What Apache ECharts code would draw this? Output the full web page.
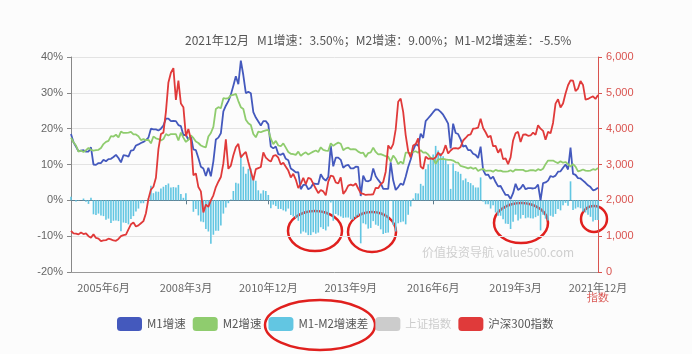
<!DOCTYPE html>
<html>
<head>
<meta charset="utf-8">
<script src="https://cdn.jsdelivr.net/npm/echarts@6/dist/echarts.min.js"></script>
<style>
  html, body { margin: 0; padding: 0; background: #fff; }
  #main { width: 692px; height: 354px; }
</style>
</head>
<body>
<div id="main"></div>
<script>
// months: 2004-05 .. 2021-12
const startYear = 2004, startMonth = 5, endYear = 2021, endMonth = 12;
const months = [];
for (let y = startYear; y <= endYear; y++) {
  for (let m = (y === startYear ? startMonth : 1); m <= (y === endYear ? endMonth : 12); m++) {
    months.push(y + '年' + m + '月');
  }
}

// M1 增速 (%)
const m1 = [
  18.5, 16.2, 15.0, 13.7, 13.9, 14.0, 13.6, 13.6,
  14.8, 10.0, 9.9, 10.4, 10.4, 11.3, 10.9, 11.5, 11.6, 12.1, 12.7, 11.8,
  10.6, 12.6, 12.5, 12.2, 13.9, 14.0, 15.3, 15.6, 16.0, 16.3, 16.8, 17.5,
  20.0, 19.8, 19.8, 19.5, 20.0, 20.9, 22.8, 22.8, 22.1, 22.2, 22.1, 21.0,
  20.7, 18.2, 18.3, 16.9, 18.0, 14.2, 14.0, 11.8, 9.4, 8.9, 6.8, 9.1,
  6.7, 10.9, 17.0, 17.5, 18.7, 24.8, 26.4, 27.7, 29.5, 32.0, 34.6, 32.4,
  39.0, 34.9, 29.9, 30.3, 29.9, 24.6, 23.1, 22.0, 20.9, 22.1, 22.1, 21.2,
  15.0, 14.5, 15.0, 12.9, 12.7, 13.1, 11.6, 11.2, 8.9, 8.4, 7.8, 7.9,
  3.1, 4.3, 4.4, 3.1, 3.5, 4.7, 4.6, 4.5, 7.3, 6.1, 5.5, 6.5,
  15.3, 9.5, 11.9, 11.9, 11.3, 9.1, 9.7, 9.9, 8.9, 8.9, 9.4, 9.3,
  1.2, 6.9, 5.4, 5.3, 5.7, 8.9, 6.7, 5.7, 4.8, 3.2, 3.2, 3.2,
  10.6, 5.6, 2.9, 3.7, 4.7, 4.3, 6.6, 9.3, 11.4, 14.0, 15.7, 15.2,
  18.6, 17.4, 22.1, 22.9, 23.7, 24.6, 25.4, 25.3, 24.7, 23.9, 22.7, 21.4,
  14.5, 21.4, 18.8, 18.5, 17.0, 15.0, 15.3, 14.0, 14.0, 13.0, 12.7, 11.8,
  15.0, 8.5, 7.1, 7.2, 6.0, 6.6, 5.1, 3.9, 4.0, 2.7, 1.5, 1.5,
  0.4, 2.0, 4.6, 2.9, 3.4, 4.4, 3.1, 3.4, 3.4, 3.3, 3.5, 4.4,
  0.0, 4.8, 5.0, 5.5, 6.8, 6.5, 6.9, 8.0, 8.1, 9.1, 10.0, 8.6,
  14.7, 7.4, 7.1, 6.2, 6.1, 5.5, 4.9, 4.2, 3.7, 2.8, 3.0, 3.5
];

// M2 增速 (%)
const m2 = [
  17.5, 16.2, 15.3, 13.6, 13.9, 13.5, 14.0, 14.6,
  14.1, 13.9, 14.0, 14.1, 14.6, 15.7, 16.3, 16.6, 17.9, 17.8, 18.3, 17.6,
  19.2, 18.8, 18.8, 18.9, 19.1, 18.4, 18.4, 17.9, 16.8, 17.1, 16.8, 16.9,
  15.9, 17.8, 17.3, 17.1, 16.7, 17.1, 18.5, 18.1, 18.5, 18.5, 18.5, 16.7,
  18.9, 17.5, 16.3, 16.9, 18.1, 17.4, 16.4, 16.0, 15.3, 15.0, 14.8, 17.8,
  18.8, 20.5, 25.5, 26.0, 25.7, 28.5, 28.4, 28.5, 29.3, 29.4, 29.7, 27.7,
  26.0, 25.5, 22.5, 21.5, 21.0, 18.5, 17.6, 19.2, 19.0, 19.3, 19.5, 19.7,
  17.2, 15.7, 16.6, 15.3, 15.1, 15.9, 14.7, 13.5, 13.0, 12.9, 12.7, 13.6,
  12.4, 13.0, 13.4, 12.8, 13.2, 13.6, 13.9, 13.5, 14.8, 14.1, 13.9, 13.8,
  15.9, 15.2, 15.7, 16.1, 15.8, 14.0, 14.5, 14.7, 14.2, 14.3, 14.2, 13.6,
  13.2, 13.3, 12.1, 13.2, 13.4, 14.7, 13.5, 12.8, 12.9, 12.6, 12.3, 12.2,
  10.8, 12.5, 11.6, 10.1, 10.8, 10.2, 13.3, 13.3, 13.1, 13.5, 13.7, 13.3,
  14.0, 13.3, 13.4, 12.8, 11.8, 11.8, 10.2, 11.4, 11.5, 11.6, 11.4, 11.3,
  11.3, 11.1, 10.6, 10.5, 9.6, 9.4, 9.2, 8.9, 9.2, 8.8, 9.1, 8.2,
  8.6, 8.8, 8.2, 8.3, 8.3, 8.0, 8.5, 8.2, 8.3, 8.0, 8.0, 8.1,
  8.4, 8.0, 8.6, 8.5, 8.5, 8.5, 8.1, 8.2, 8.4, 8.4, 8.2, 8.7,
  8.4, 8.8, 10.1, 11.1, 11.1, 11.1, 10.7, 10.4, 10.9, 10.5, 10.7, 10.1,
  9.4, 10.1, 9.4, 8.1, 8.3, 8.6, 8.3, 8.2, 8.3, 8.7, 8.5, 9.0
];

// 沪深300指数 (月末)
const hs300 = [
  1150, 1080, 1070, 1050, 1100, 1060, 1080, 1000,
  960, 1050, 950, 930, 860, 880, 890, 930, 910, 880, 870, 923,
  1000, 1030, 1040, 1190, 1330, 1380, 1270, 1300, 1360, 1420, 1640, 2041,
  2300, 2380, 2630, 3430, 3850, 3890, 4470, 5290, 5560, 5688, 4800, 5338,
  4700, 4600, 3790, 3990, 3700, 2700, 2750, 2370, 2250, 1660, 1880, 1817,
  2000, 2140, 2370, 2520, 2650, 3030, 3700, 2880, 2970, 3260, 3480, 3575,
  3200, 3280, 3350, 3070, 2810, 2560, 2870, 2900, 2930, 3340, 3190, 3128,
  3080, 3240, 3260, 3190, 3000, 3050, 2940, 2830, 2640, 2740, 2580, 2346,
  2460, 2630, 2450, 2630, 2600, 2460, 2330, 2200, 2290, 2250, 2140, 2522,
  2690, 2670, 2500, 2470, 2640, 2180, 2270, 2410, 2440, 2410, 2470, 2330,
  2200, 2180, 2150, 2160, 2160, 2170, 2350, 2340, 2450, 2510, 2800, 3533,
  3430, 3570, 3980, 4750, 4840, 4470, 3820, 3370, 3200, 3530, 3570, 3731,
  2940, 2880, 3220, 3160, 3170, 3150, 3200, 3330, 3250, 3340, 3540, 3310,
  3390, 3450, 3460, 3440, 3490, 3670, 3740, 3820, 3840, 4000, 4010, 4030,
  4280, 4020, 3900, 3760, 3800, 3510, 3520, 3330, 3440, 3150, 3170, 3010,
  3200, 3670, 3870, 3910, 3630, 3830, 3840, 3800, 3810, 3890, 3830, 4097,
  4000, 3940, 3690, 3910, 3870, 4160, 4700, 4820, 4590, 4700, 4980, 5211,
  5350, 5340, 5050, 5120, 5330, 5220, 4810, 4830, 4870, 4900, 4830, 4940
];

// M1-M2 增速差
const diff = m1.map((v, i) => Math.round((v - m2[i]) * 10) / 10);

const titleText = '2021年12月   M1增速：3.50%；M2增速：9.00%；M1-M2增速差：-5.5%';
const labelEvery = 33, labelFirst = 13;
const showLabel = (idx) => (idx - labelFirst) % labelEvery === 0;

const chart = echarts.init(document.getElementById('main'));

const option = {
  backgroundColor: '#fcfcfc',
  animation: false,
  title: {
    text: titleText,
    left: 180,
    top: 29,
    textStyle: { fontSize: 12, fontWeight: 'normal', color: '#555', fontFamily: 'Noto Sans CJK SC' }
  },
  legend: {
    left: 112,
    top: 312,
    icon: 'roundRect',
    itemWidth: 25,
    itemHeight: 14,
    itemGap: 7,
    textStyle: { fontSize: 11.5, color: '#555', fontFamily: 'Noto Sans CJK SC' },
    inactiveColor: '#ccc',
    data: ['M1增速', 'M2增速', 'M1-M2增速差', '上证指数', '沪深300指数'],
    selected: { '上证指数': false }
  },
  grid: { left: 71, right: 94, top: 57, bottom: 82 },
  xAxis: [{
    type: 'category',
    data: months,
    boundaryGap: false,
    axisLine: { onZero: false, lineStyle: { color: '#999' } },
    axisTick: { show: false },
    axisLabel: { interval: showLabel, color: '#666', fontSize: 11, margin: 10, fontFamily: 'Noto Sans CJK SC' },
    splitLine: { show: false }
  }, {
    type: 'category',
    data: months,
    boundaryGap: false,
    position: 'bottom',
    axisLine: { onZero: true, lineStyle: { color: '#5f7d8e' } },
    axisTick: { interval: showLabel, length: 4, lineStyle: { color: '#5f7d8e' } },
    axisLabel: { show: false },
    splitLine: { show: false }
  }],
  yAxis: [{
    type: 'value',
    min: -20,
    max: 40,
    interval: 10,
    axisLine: { show: true, lineStyle: { color: '#888' } },
    axisTick: { show: true, length: 4 },
    axisLabel: { formatter: '{value}%', color: '#666', fontSize: 11 },
    splitLine: { lineStyle: { color: '#e3e3e3' } }
  }, {
    type: 'value',
    min: 0,
    max: 6000,
    interval: 1000,
    name: '指数',
    nameLocation: 'start',
    nameGap: 12,
    nameTextStyle: { color: '#d9534f', fontSize: 11, align: 'center', verticalAlign: 'top' },
    axisLine: { show: true, lineStyle: { color: '#d9534f' } },
    axisTick: { show: true, length: 4 },
    axisLabel: {
      color: '#d9534f',
      fontSize: 11,
      formatter: (v) => v.toLocaleString('en-US')
    },
    splitLine: { show: false }
  }],
  series: [{
    name: 'M1增速',
    type: 'line',
    data: m1,
    showSymbol: false,
    color: '#4459bd',
    lineStyle: { width: 1.8 }
  }, {
    name: 'M2增速',
    type: 'line',
    data: m2,
    showSymbol: false,
    color: '#8fcc6e',
    lineStyle: { width: 1.8 }
  }, {
    name: 'M1-M2增速差',
    type: 'bar',
    data: diff,
    color: '#62c6e2',
    barCategoryGap: '35%'
  }, {
    name: '上证指数',
    type: 'line',
    yAxisIndex: 1,
    data: [],
    showSymbol: false,
    color: '#aaaaaa'
  }, {
    name: '沪深300指数',
    type: 'line',
    yAxisIndex: 1,
    data: hs300,
    showSymbol: false,
    color: '#e03a3a',
    lineStyle: { width: 1.8 }
  }],
  graphic: [{
    type: 'text',
    left: 422,
    top: 246,
    silent: true,
    style: { text: '价值投资导航 value500.com', fill: '#cfcfcf', font: '12px "Noto Sans CJK SC"' }
  },
  // hand-drawn highlight circles on the screenshot
  { type: 'ellipse', silent: true, shape: { cx: 315, cy: 231, rx: 27, ry: 20 }, style: { fill: 'none', stroke: '#e0201e', lineWidth: 2.5 } },
  { type: 'ellipse', silent: true, shape: { cx: 372, cy: 232, rx: 24, ry: 20 }, style: { fill: 'none', stroke: '#e0201e', lineWidth: 2.5 } },
  { type: 'ellipse', silent: true, shape: { cx: 521, cy: 223, rx: 27, ry: 20 }, style: { fill: 'none', stroke: '#e0201e', lineWidth: 2.5 } },
  { type: 'ellipse', silent: true, shape: { cx: 594, cy: 219, rx: 13, ry: 13 }, style: { fill: 'none', stroke: '#e0201e', lineWidth: 2.5 } },
  { type: 'ellipse', silent: true, shape: { cx: 320, cy: 325, rx: 55, ry: 25 }, style: { fill: 'none', stroke: '#e0201e', lineWidth: 2.5 } }
  ]
};

chart.setOption(option);
</script>
</body>
</html>
